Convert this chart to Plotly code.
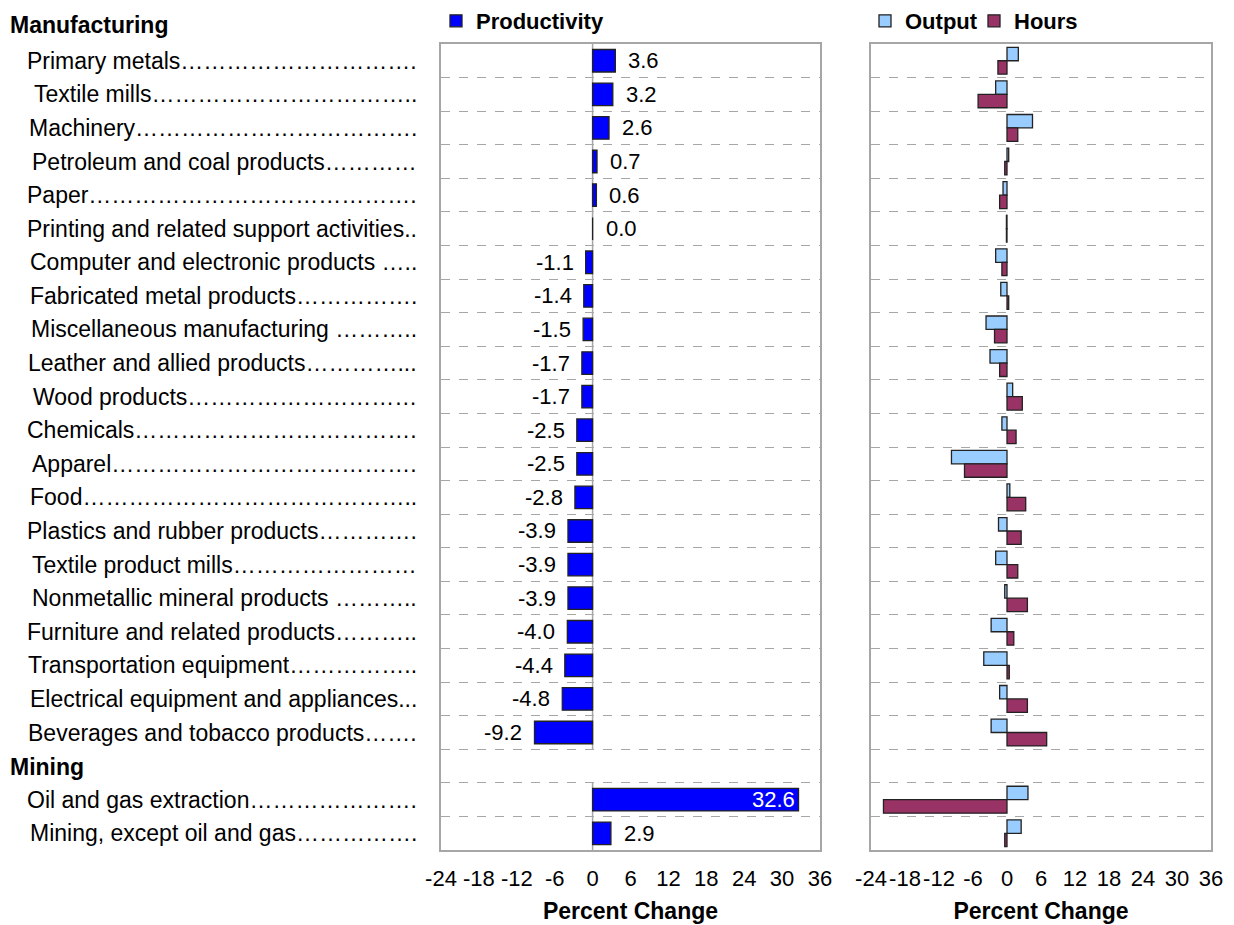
import plotly.graph_objects as go

# ---------------- data ----------------
rows = [
    "Manufacturing",
    "Primary metals",
    "Textile mills",
    "Machinery",
    "Petroleum and coal products",
    "Paper",
    "Printing and related support activities",
    "Computer and electronic products ",
    "Fabricated metal products",
    "Miscellaneous manufacturing ",
    "Leather and allied products",
    "Wood products",
    "Chemicals",
    "Apparel",
    "Food",
    "Plastics and rubber products",
    "Textile product mills",
    "Nonmetallic mineral products ",
    "Furniture and related products",
    "Transportation equipment",
    "Electrical equipment and appliances",
    "Beverages and tobacco products",
    "Mining",
    "Oil and gas extraction",
    "Mining, except oil and gas",
]
headers = ["Manufacturing", "Mining"]

productivity = [None, 3.6, 3.2, 2.6, 0.7, 0.6, 0.0, -1.1, -1.4, -1.5, -1.7, -1.7,
                -2.5, -2.5, -2.8, -3.9, -3.9, -3.9, -4.0, -4.4, -4.8, -9.2,
                None, 32.6, 2.9]
output = [None, 2.0, -2.0, 4.5, 0.3, -0.7, -0.1, -2.0, -1.1, -3.7, -3.0, 1.0,
          -0.9, -9.8, 0.5, -1.5, -2.0, -0.4, -2.8, -4.1, -1.3, -2.8,
          None, 3.7, 2.5]
hours = [None, -1.6, -5.1, 1.9, -0.4, -1.3, -0.1, -0.9, 0.3, -2.2, -1.3, 2.7,
         1.6, -7.5, 3.3, 2.5, 1.9, 3.6, 1.2, 0.4, 3.6, 7.0,
         None, -21.8, -0.4]

x_ticks = [-24, -18, -12, -6, 0, 6, 12, 18, 24, 30, 36]

# ---------------- styling ----------------
FONT = "Liberation Sans, Arial, sans-serif"
W, H = 1234, 925
LABEL_SIZE = 23
NUM_SIZE = 22
TITLE_SIZE = 23
BORDER = "#A6A6A6"
GRID = "#A6A6A6"
OUTLINE = "#222222"

# Arial / Liberation Sans advance widths (per 1000 em) for building dot leaders
_W = {" ": 278, ",": 278, ".": 278, "-": 333, "…": 1000}
_W.update(dict(zip("abcdefghijklmnopqrstuvwxyz",
                   [556, 556, 500, 556, 556, 278, 556, 556, 222, 222, 500, 222, 833,
                    556, 556, 556, 556, 333, 500, 278, 556, 500, 722, 500, 500, 500])))
_W.update(dict(zip("ABCDEFGHIJKLMNOPQRSTUVWXYZ",
                   [667, 667, 722, 722, 667, 611, 778, 722, 278, 500, 667, 556, 833,
                    722, 778, 667, 778, 722, 667, 611, 722, 667, 944, 667, 667, 611])))


def text_px(s, size):
    return sum(_W.get(c, 556) for c in s) * size / 1000.0


def with_leader(name, size, avail):
    s = name
    while text_px(s + "…", size) <= avail:
        s += "…"
    while text_px(s + ".", size) <= avail:
        s += "."
    return s


pos = list(range(len(rows)))

fig = go.Figure()

fig.add_trace(go.Bar(
    x=productivity, y=pos, orientation="h", name="Productivity",
    marker=dict(color="#0000FF", line=dict(color=OUTLINE, width=1.3)),
    width=0.67, offset=-0.335, xaxis="x", yaxis="y", legend="legend",
))
fig.add_trace(go.Bar(
    x=output, y=pos, orientation="h", name="Output",
    marker=dict(color="#99CCFF", line=dict(color=OUTLINE, width=1.3)),
    width=0.4, offset=-0.4, xaxis="x2", yaxis="y2", legend="legend2",
))
fig.add_trace(go.Bar(
    x=hours, y=pos, orientation="h", name="Hours",
    marker=dict(color="#993366", line=dict(color=OUTLINE, width=1.3)),
    width=0.4, offset=0.0, xaxis="x2", yaxis="y2", legend="legend2",
))

ann = []
# value labels
for p, v in zip(pos, productivity):
    if v is None:
        continue
    txt = f"{v:.1f}"
    if v >= 20:
        ann.append(dict(x=v, y=p, xref="x", yref="y", text=txt, showarrow=False,
                        xanchor="right", xshift=-2,
                        font=dict(family=FONT, size=NUM_SIZE, color="white")))
    elif v >= 0:
        ann.append(dict(x=v, y=p, xref="x", yref="y", text=txt, showarrow=False,
                        xanchor="left", xshift=11,
                        font=dict(family=FONT, size=NUM_SIZE, color="black")))
    else:
        ann.append(dict(x=v, y=p, xref="x", yref="y", text=txt, showarrow=False,
                        xanchor="right", xshift=-10,
                        font=dict(family=FONT, size=NUM_SIZE, color="black")))

# plot vertical extent (paper units)
Y_TOP = 1 - 43 / H
Y_BOT = 75 / H
n_plot_rows = len(rows) - 1
row_h = (Y_TOP - Y_BOT) / n_plot_rows

# category labels with dot leaders, right edge at ~419 px
RIGHT_PX = 419
for p, name in zip(pos, rows):
    if name in headers:
        yy = Y_TOP - (p - 0.5) * row_h
        ann.append(dict(x=8 / W, y=yy, xref="paper", yref="paper", text=f"<b>{name}</b>",
                        showarrow=False, xanchor="left", yanchor="middle",
                        yshift=2 if p == 0 else -1,
                        font=dict(family=FONT, size=LABEL_SIZE, color="black")))
    else:
        txt = with_leader(name, LABEL_SIZE, RIGHT_PX - 28)
        ann.append(dict(x=RIGHT_PX / W, y=p, xref="paper", yref="y", text=txt,
                        showarrow=False, xanchor="right",
                        font=dict(family=FONT, size=LABEL_SIZE, color="black")))

# zero line of productivity panel (broken at the Mining header row)
shapes = []
mining_pos = rows.index("Mining")
segments = [(0.5, mining_pos - 0.5), (mining_pos + 0.5, len(rows) - 0.5)]
for y0, y1 in segments:
    shapes.append(dict(type="line", xref="x", yref="y", x0=0, x1=0, y0=y0, y1=y1,
                       line=dict(color=BORDER, width=1.5), layer="below"))

grid_vals = [p + 0.5 for p in pos[1:-1]]


def xaxis(domain, anchor):
    return dict(domain=domain, anchor=anchor, range=[-24, 36], tickvals=x_ticks,
                ticktext=[str(t) for t in x_ticks], tickangle=0,
                showgrid=False, zeroline=False, showline=True, mirror=True,
                linecolor=BORDER, linewidth=1.5, ticks="",
                ticklabelstandoff=8, automargin=False, fixedrange=True,
                tickfont=dict(family=FONT, size=NUM_SIZE, color="black"),
                title=dict(text="<b>Percent Change</b>", standoff=13,
                           font=dict(family=FONT, size=TITLE_SIZE, color="black")))


def yaxis(anchor):
    return dict(domain=[Y_BOT, Y_TOP], anchor=anchor,
                range=[len(rows) - 0.5, 0.5], autorange=False,
                tickvals=grid_vals, showticklabels=False, ticks="",
                showgrid=True, gridcolor=GRID, griddash="dash", gridwidth=1,
                zeroline=False, showline=True, mirror=True,
                linecolor=BORDER, linewidth=1.5, automargin=False, fixedrange=True)


fig.update_layout(
    width=W, height=H,
    margin=dict(l=0, r=0, t=0, b=0),
    paper_bgcolor="white", plot_bgcolor="white",
    barmode="overlay",
    xaxis=xaxis([441 / W, 820 / W], "y"),
    yaxis=yaxis("x"),
    xaxis2=xaxis([871 / W, 1211 / W], "y2"),
    yaxis2=yaxis("x2"),
    annotations=ann,
    shapes=shapes,
    showlegend=True,
    legend=dict(orientation="h", x=436 / W, y=1 + 1 / H, xanchor="left", yanchor="top",
                bgcolor="rgba(0,0,0,0)",
                font=dict(family=FONT, size=NUM_SIZE, color="black", weight="bold")),
    legend2=dict(orientation="h", x=865 / W, y=1 + 1 / H, xanchor="left", yanchor="top",
                 bgcolor="rgba(0,0,0,0)", entrywidth=64,
                 font=dict(family=FONT, size=NUM_SIZE, color="black", weight="bold")),
)

fig.write_html("out.html", config={"displayModeBar": False},
               post_script="document.body.style.margin='0px';")
